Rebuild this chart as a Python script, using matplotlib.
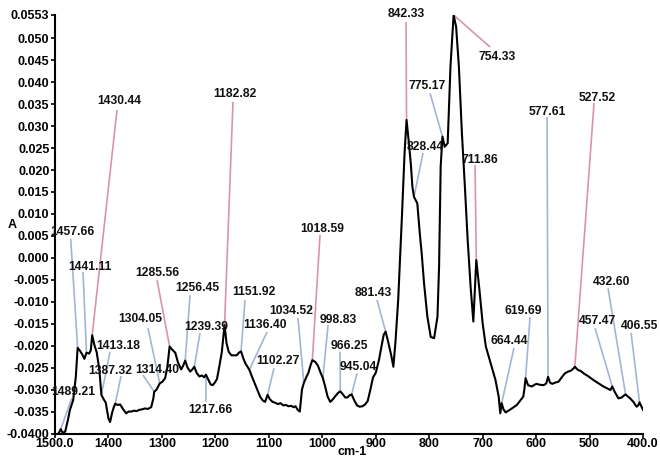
import matplotlib
matplotlib.use("Agg")
import matplotlib.pyplot as plt
import numpy as np

plt.rcParams["font.family"] = ["Liberation Sans", "DejaVu Sans"]

# IR absorbance trace, wavenumber (cm-1) descending
wavenumber = np.array([
    1493, 1489.21, 1486, 1481, 1476, 1472, 1466, 1461, 1457.66, 1453,
    1449, 1445, 1441.11, 1436, 1433, 1430.44, 1426, 1422, 1417, 1413.18,
    1409, 1405, 1400, 1397, 1393, 1390, 1387.32, 1383, 1378, 1373,
    1367, 1362, 1357, 1352, 1347, 1342, 1337, 1332, 1326, 1320,
    1316, 1314.40, 1310, 1304.05, 1299, 1294, 1290, 1285.56, 1280, 1275,
    1270, 1264, 1260, 1256.45, 1252, 1247, 1243, 1239.39, 1235, 1230,
    1225, 1221, 1217.66, 1213, 1209, 1205, 1201, 1197, 1193, 1188,
    1185, 1182.82, 1179, 1175, 1170, 1165, 1160, 1156, 1151.92, 1148,
    1144, 1140, 1136.40, 1131, 1126, 1121, 1116, 1111, 1107, 1102.27,
    1098, 1093, 1088, 1083, 1078, 1073, 1068, 1063, 1058, 1054,
    1050, 1046, 1042, 1038, 1034.52, 1030, 1026, 1022, 1018.59, 1013,
    1008, 1003, 998.83, 994, 990, 985, 980, 975, 970, 966.25,
    962, 957, 953, 949, 945.04, 940, 935, 930, 925, 920,
    915, 910, 905, 900, 894, 889, 885, 881.43, 877, 871,
    867, 863, 858, 851, 846, 842.33, 838.5, 834.4, 831.4, 828.44,
    822.2, 817.6, 814, 809.6, 803.4, 797.1, 790.8, 784.5, 781.5, 778.5,
    775.17, 771, 765.4, 760.2, 754.33, 749.6, 744.4, 738.8, 733.2, 728,
    722.5, 717.4, 711.86, 706, 700, 694, 685, 676, 670, 667,
    664.44, 661, 657, 649, 636, 624, 622, 619.69, 615, 608,
    603, 599, 593, 586, 581, 577.61, 574, 570, 564, 558,
    552, 546, 540, 535, 530, 527.52, 522, 516, 511, 502,
    493, 484, 474, 466, 461, 457.47, 453, 446, 440, 436,
    432.60, 428, 424, 418, 412, 409, 406.55, 403, 400,
])
absorbance = np.array([
    -0.0399, -0.0390, -0.0398, -0.0396, -0.0370, -0.0346, -0.0324, -0.0270, -0.0205, -0.0212,
    -0.0220, -0.0230, -0.0216, -0.0218, -0.0210, -0.0176, -0.0200, -0.0215, -0.0255, -0.0312,
    -0.0322, -0.0330, -0.0366, -0.0374, -0.0352, -0.0340, -0.0332, -0.0335, -0.0334, -0.0344,
    -0.0354, -0.0350, -0.0350, -0.0348, -0.0349, -0.0346, -0.0345, -0.0343, -0.0344, -0.0340,
    -0.0320, -0.0305, -0.0300, -0.0286, -0.0282, -0.0274, -0.0250, -0.0202, -0.0210, -0.0216,
    -0.0238, -0.0254, -0.0245, -0.0234, -0.0250, -0.0259, -0.0254, -0.0248, -0.0262, -0.0270,
    -0.0268, -0.0272, -0.0266, -0.0278, -0.0288, -0.0290, -0.0284, -0.0276, -0.0250, -0.0215,
    -0.0180, -0.0153, -0.0195, -0.0214, -0.0222, -0.0222, -0.0222, -0.0216, -0.0213, -0.0228,
    -0.0240, -0.0248, -0.0255, -0.0272, -0.0287, -0.0302, -0.0317, -0.0325, -0.0328, -0.0312,
    -0.0322, -0.0328, -0.0330, -0.0333, -0.0331, -0.0336, -0.0335, -0.0338, -0.0337, -0.0340,
    -0.0338, -0.0346, -0.0350, -0.0300, -0.0285, -0.0272, -0.0262, -0.0245, -0.0233, -0.0237,
    -0.0246, -0.0262, -0.0274, -0.0296, -0.0316, -0.0328, -0.0322, -0.0314, -0.0307, -0.0304,
    -0.0310, -0.0318, -0.0318, -0.0313, -0.0311, -0.0325, -0.0336, -0.0339, -0.0338, -0.0334,
    -0.0326, -0.0300, -0.0272, -0.0262, -0.0233, -0.0200, -0.0175, -0.0168, -0.0190, -0.0222,
    -0.0248, -0.0190, -0.0096, 0.0094, 0.0240, 0.0314, 0.0268, 0.0215, 0.0162, 0.0139,
    0.0124, 0.0056, 0.0010, -0.0058, -0.0134, -0.0180, -0.0183, -0.0134, -0.0020, 0.0208,
    0.0276, 0.0253, 0.0261, 0.0435, 0.0553, 0.0526, 0.0435, 0.0284, 0.0162, 0.0041,
    -0.0066, -0.0145, -0.0005, -0.0073, -0.0149, -0.0202, -0.0240, -0.0278, -0.0316, -0.0354,
    -0.0331, -0.0345, -0.0352, -0.0346, -0.0335, -0.0316, -0.0300, -0.0274, -0.0290, -0.0293,
    -0.0289, -0.0287, -0.0289, -0.0290, -0.0286, -0.0271, -0.0284, -0.0287, -0.0284, -0.0282,
    -0.0272, -0.0263, -0.0259, -0.0257, -0.0252, -0.0248, -0.0255, -0.0258, -0.0263, -0.0270,
    -0.0278, -0.0285, -0.0293, -0.0298, -0.0301, -0.0293, -0.0305, -0.0320, -0.0318, -0.0314,
    -0.0311, -0.0316, -0.0320, -0.0328, -0.0339, -0.0336, -0.0329, -0.0338, -0.0346,
])

# labelled bands
peak_wn = [
    1489.21, 1457.66, 1441.11, 1430.44, 1413.18, 1387.32, 1304.05, 1314.40,
    1285.56, 1256.45, 1239.39, 1217.66, 1182.82, 1151.92, 1136.40, 1102.27,
    1034.52, 1018.59, 998.83, 966.25, 945.04, 881.43, 842.33, 828.44,
    775.17, 754.33, 711.86, 664.44, 619.69, 577.61, 527.52, 457.47,
    432.60, 406.55,
]
strong_bands = {1430.44, 1285.56, 1182.82, 1018.59, 842.33, 754.33, 711.86, 527.52}

# label text centre and where its leader line starts (wavenumber, absorbance)
label_pos = [
    (1465.4, -0.0306), (1468.2, 0.0059), (1434.5, -0.0020), (1380.3, 0.0357),
    (1382.1, -0.0201), (1397.1, -0.0258), (1341.0, -0.0139), (1309.2, -0.0255),
    (1309.2, -0.0035), (1234.3, -0.0069), (1217.5, -0.0157), (1210.0, -0.0346),
    (1163.2, 0.0373), (1127.7, -0.0078), (1107.1, -0.0153), (1082.8, -0.0235),
    (1058.5, -0.0121), (1000.5, 0.0066), (970.5, -0.0142), (950.0, -0.0201),
    (933.1, -0.0249), (905.1, -0.0080), (843.3, 0.0555), (807.8, 0.0253),
    (804.0, 0.0391), (673.1, 0.0458), (704.9, 0.0223), (650.6, -0.0189),
    (624.4, -0.0121), (579.5, 0.0332), (486.0, 0.0364), (486.0, -0.0144),
    (457.9, -0.0055), (407.3, -0.0155),
]
leader_start = [
    (1468.8, -0.0320), (1470.6, 0.0043), (1447.6, -0.0032), (1384.0, 0.0337),
    (1397.1, -0.0214), (1376.5, -0.0269), (1326.0, -0.0160), (1335.4, -0.0267),
    (1309.2, -0.0050), (1247.4, -0.0085), (1228.7, -0.0171), (1217.5, -0.0328),
    (1167.0, 0.0355), (1144.5, -0.0096), (1103.4, -0.0169), (1090.3, -0.0251),
    (1045.4, -0.0137), (1004.2, 0.0052), (989.2, -0.0153), (966.8, -0.0214),
    (935.0, -0.0263), (897.6, -0.0096), (843.3, 0.0537), (811.5, 0.0239),
    (798.4, 0.0375), (686.0, 0.0480), (714.2, 0.0211), (641.3, -0.0205),
    (611.3, -0.0135), (579.5, 0.0321), (491.6, 0.0353), (489.7, -0.0160),
    (465.4, -0.0069), (422.3, -0.0171),
]

y_ticks = [0.0553, 0.050, 0.045, 0.040, 0.035, 0.030, 0.025, 0.020, 0.015, 0.010,
           0.005, 0.000, -0.005, -0.010, -0.015, -0.020, -0.025, -0.030, -0.035, -0.040]
y_tick_labels = ["0.0553", "0.050", "0.045", "0.040", "0.035", "0.030", "0.025",
                 "0.020", "0.015", "0.010", "0.005", "0.000", "-0.005", "-0.010",
                 "-0.015", "-0.020", "-0.025", "-0.030", "-0.035", "-0.0400"]
x_ticks = [1500, 1400, 1300, 1200, 1100, 1000, 900, 800, 700, 600, 500, 400]
x_tick_labels = ["1500.0", "1400", "1300", "1200", "1100", "1000", "900",
                 "800", "700", "600", "500", "400.0"]

blue = "#a3b5d6"
pink = "#d995a5"

fig = plt.figure(figsize=(6.6, 4.58), dpi=100)
ax = fig.add_axes([55 / 660, 1 - 433.5 / 458, 588 / 660, 418.5 / 458])

ax.plot(wavenumber, absorbance, color="black", linewidth=1.5, zorder=3)

# leader lines end on the trace at each labelled band
peak_abs = np.interp(peak_wn, wavenumber[::-1], absorbance[::-1])
for wn, a, (tx, ty), (lx, ly) in zip(peak_wn, peak_abs, label_pos, leader_start):
    line_color = pink if wn in strong_bands else blue
    ax.plot([lx, wn], [ly, a], color=line_color, linewidth=1.2, zorder=2,
            solid_capstyle="butt")
    ax.text(tx, ty, f"{wn:.2f}", ha="center", va="center", fontsize=8.7,
            fontweight="bold", color="#111111", zorder=4, clip_on=False)

ax.set_xlim(1500, 400)
ax.set_ylim(-0.040, 0.0553)
ax.set_xticks(x_ticks)
ax.set_xticklabels(x_tick_labels)
ax.set_yticks(y_ticks)
ax.set_yticklabels(y_tick_labels)

for spine in ("top", "right"):
    ax.spines[spine].set_visible(False)
for spine in ("left", "bottom"):
    ax.spines[spine].set_linewidth(1.5)

ax.tick_params(axis="both", direction="out", length=3, width=1.2,
               labelsize=9, pad=1)
ax.tick_params(axis="x", pad=0)
for lbl in ax.get_xticklabels() + ax.get_yticklabels():
    lbl.set_fontweight("bold")

ax.set_xlabel("cm-1", fontsize=9, fontweight="bold", va="center")
ax.xaxis.set_label_coords(0.505, -0.0445)
ax.set_ylabel("A", fontsize=9, fontweight="bold", rotation=0, va="center")
ax.yaxis.set_label_coords(-0.073, 0.498)

fig.savefig("out.png", dpi=100)
